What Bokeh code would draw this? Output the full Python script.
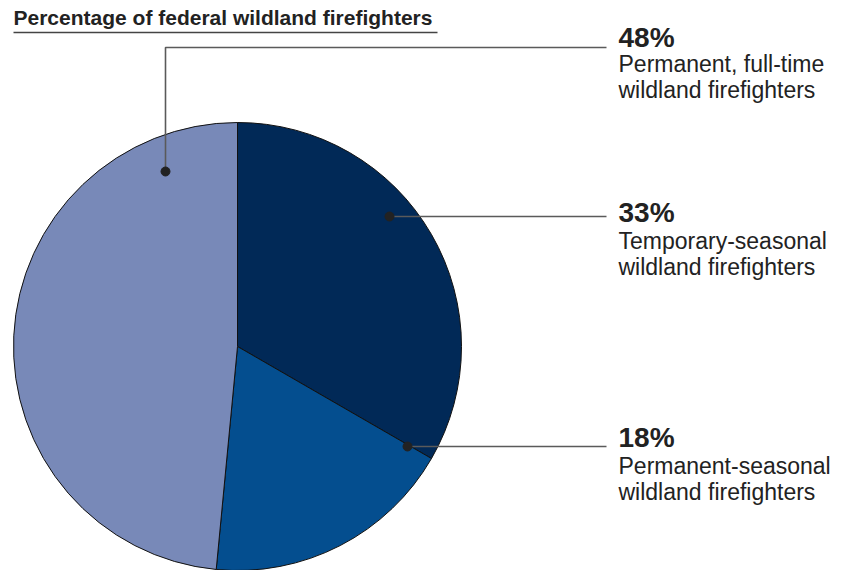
import math
from bokeh.plotting import figure
from bokeh.models import Range1d, ColumnDataSource
from bokeh.core.properties import value
from bokeh.embed import file_html
from bokeh.resources import INLINE

# ---- data ----
title = "Percentage of federal wildland firefighters"
categories = ["Temporary-seasonal wildland firefighters",
              "Permanent-seasonal wildland firefighters",
              "Permanent, full-time wildland firefighters"]
percents = [33, 18, 48]
pct_labels = ["33%", "18%", "48%"]
desc_line1 = ["Temporary-seasonal", "Permanent-seasonal", "Permanent, full-time"]
desc_line2 = ["wildland firefighters", "wildland firefighters", "wildland firefighters"]
colors = ["#012957", "#044e8f", "#7889b8"]

# ---- layout (image pixel coords; data y = H0 - image y) ----
H0 = 570
W, H = 846, 570
FONT = "Liberation Sans"
TXT = "#222222"

p = figure(width=W, height=H, output_backend="svg", toolbar_location=None,
           x_range=Range1d(0, W), y_range=Range1d(H0 - H, H0),
           min_border=0)
p.axis.visible = False
p.grid.visible = False
p.outline_line_color = None
p.background_fill_color = "white"
p.border_fill_color = "white"

# pie
cx, cy, r = 237, H0 - 346, 224
total = sum(percents)
starts, ends = [], []
acc = 0.0
for v in percents:
    starts.append(math.pi / 2 - 2 * math.pi * acc / total)
    acc += v
    ends.append(math.pi / 2 - 2 * math.pi * acc / total)
src = ColumnDataSource(dict(x=[cx] * len(percents), y=[cy] * len(percents),
                            start=starts, end=ends, color=colors, cat=categories))
p.wedge(x="x", y="y", radius=r, radius_units="data", start_angle="start",
        end_angle="end", direction="clock", fill_color="color",
        line_color="#111111", line_width=1, source=src)

# leader lines and dots (order: 33, 18, 48)
dots_x = [389, 407, 165]
dots_y = [216, 446, 171]
line_end_x = 606
xs = [[389, line_end_x], [407, line_end_x], [165, 165, line_end_x]]
ys = [[H0 - 216] * 2, [H0 - 446] * 2, [H0 - 171, H0 - 47, H0 - 47]]
p.multi_line(xs=xs, ys=ys, line_color="#5a5a5a", line_width=1.6)
p.scatter(x=dots_x, y=[H0 - v for v in dots_y], size=9, fill_color="#222222",
          line_color="#222222")

# labels
lx = 618
pct_base = [212, 437, 37]
d1_base = [240, 465, 63]
d2_base = [266, 491, 89]
p.text(x=[lx] * 3, y=[H0 - v for v in pct_base], text=pct_labels,
       text_font=value(FONT), text_font_size="28px", text_font_style="bold",
       text_color=TXT, text_baseline="alphabetic", text_align="left")
p.text(x=[lx] * 3, y=[H0 - v for v in d1_base], text=desc_line1,
       text_font=value(FONT), text_font_size="23px",
       text_color=TXT, text_baseline="alphabetic", text_align="left")
p.text(x=[lx] * 3, y=[H0 - v for v in d2_base], text=desc_line2,
       text_font=value(FONT), text_font_size="23px",
       text_color=TXT, text_baseline="alphabetic", text_align="left")

# title with underline
p.text(x=[13], y=[H0 - 17], text=[title], text_font=value(FONT),
       text_font_size="21px", text_font_style="bold", text_color=TXT,
       text_baseline="alphabetic", text_align="left")
p.segment(x0=[13], y0=[H0 - 32], x1=[437], y1=[H0 - 32],
          line_color="#444444", line_width=1.5)

open("out.html", "w").write(file_html(p, INLINE))
